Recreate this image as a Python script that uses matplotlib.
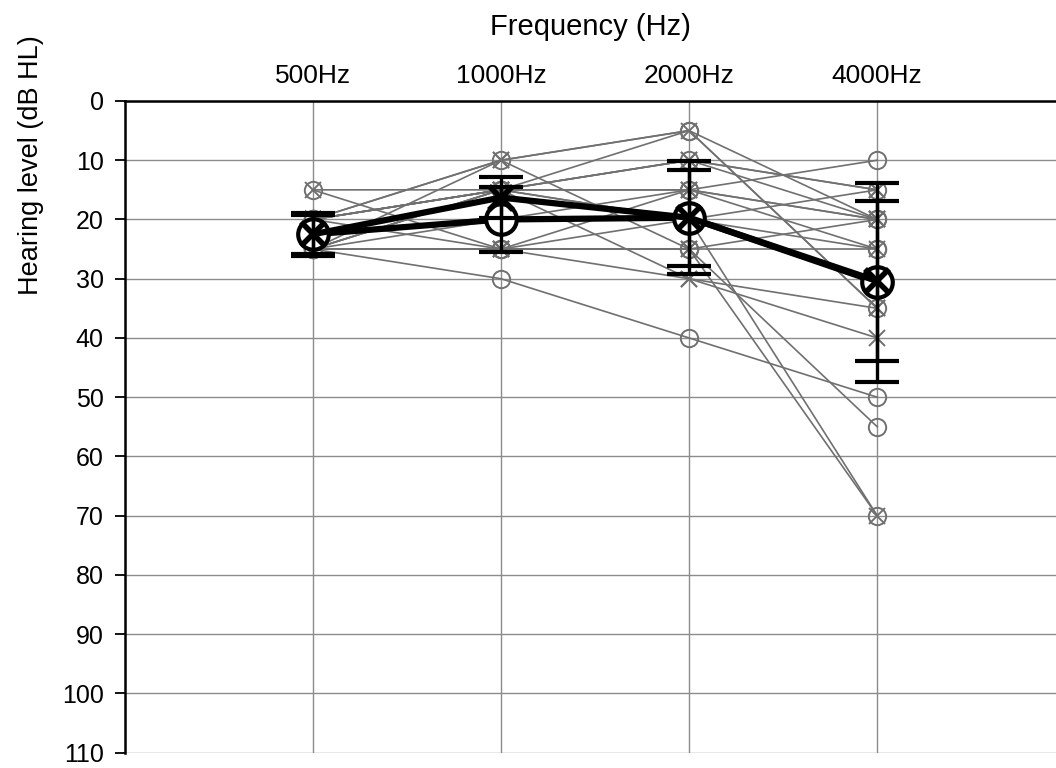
import numpy as np
import matplotlib.pyplot as plt

plt.rcParams['font.family'] = ['Liberation Sans', 'DejaVu Sans']

freqs = ['500Hz', '1000Hz', '2000Hz', '4000Hz']
xpos = [1, 2, 3, 4]

# individual ears (dB HL at 500, 1000, 2000, 4000 Hz)
right_ears = [
    [15, 15, 10, 20],
    [20, 10, 5, 20],
    [20, 15, 15, 25],
    [25, 20, 15, 10],
    [25, 25, 25, 55],
    [25, 30, 40, 50],
    [20, 15, 5, 35],
    [25, 25, 20, 70],
    [20, 15, 20, 15],
    [25, 25, 25, 25],
]
left_ears = [
    [15, 25, 15, 20],
    [20, 10, 5, 35],
    [20, 15, 10, 15],
    [25, 15, 30, 40],
    [25, 25, 25, 70],
    [20, 15, 15, 20],
    [25, 15, 20, 25],
    [20, 25, 30, 35],
    [25, 15, 10, 15],
    [25, 10, 25, 20],
]

# group means and error bars
right_mean = [22.5, 20.0, 19.7, 30.6]
right_err = [3.6, 5.5, 9.5, 16.8]
left_mean = [22.5, 16.3, 19.7, 30.4]
left_err = [3.3, 3.4, 8.1, 13.5]

grey = '#707070'

fig = plt.figure(figsize=(10.56, 7.68), dpi=100)
ax = fig.add_axes([0.118, 0.02, 0.882, 0.8485])

for s in right_ears:
    ax.plot(xpos, s, color=grey, lw=1.2, marker='o', ms=12.5, mfc='none',
            mec=grey, mew=1.4, zorder=2)
for s in left_ears:
    ax.plot(xpos, s, color=grey, lw=1.2, marker='x', ms=12, mec=grey,
            mew=1.4, zorder=2)

ax.errorbar(xpos, right_mean, yerr=right_err, fmt='none', ecolor='black',
            elinewidth=2.4, capsize=16, capthick=3, zorder=6)
ax.errorbar(xpos, left_mean, yerr=left_err, fmt='none', ecolor='black',
            elinewidth=2.4, capsize=16, capthick=3, zorder=6)

ax.plot(xpos, right_mean, color='black', lw=4.5, marker='o', ms=22,
        mfc='white', mec='black', mew=3, zorder=5)
ax.plot(xpos, left_mean, color='black', lw=4.5, marker='x', ms=17,
        mec='black', mew=4, zorder=5)

ax.set_xlim(0, 4.95)
ax.set_ylim(110, 0)
ax.set_yticks(np.arange(0, 111, 10))
ax.set_xticks(xpos)
ax.set_xticklabels(freqs)
ax.xaxis.tick_top()
ax.xaxis.set_label_position('top')
ax.tick_params(axis='x', length=0, pad=9, labelsize=19)
ax.tick_params(axis='y', direction='out', length=7, width=1.3, pad=8,
               labelsize=18)
ax.set_xlabel('Frequency (Hz)', fontsize=21, labelpad=21)
ax.set_ylabel('Hearing level (dB HL)', fontsize=19.5)
ax.yaxis.set_label_coords(-0.087, 0.902)

ax.grid(True, color='#8c8c8c', lw=1.0)
ax.set_axisbelow(True)
for sp in ['right', 'bottom']:
    ax.spines[sp].set_visible(False)
ax.spines['top'].set_linewidth(1.8)
ax.spines['left'].set_linewidth(1.8)

fig.savefig('out.png', dpi=100)
